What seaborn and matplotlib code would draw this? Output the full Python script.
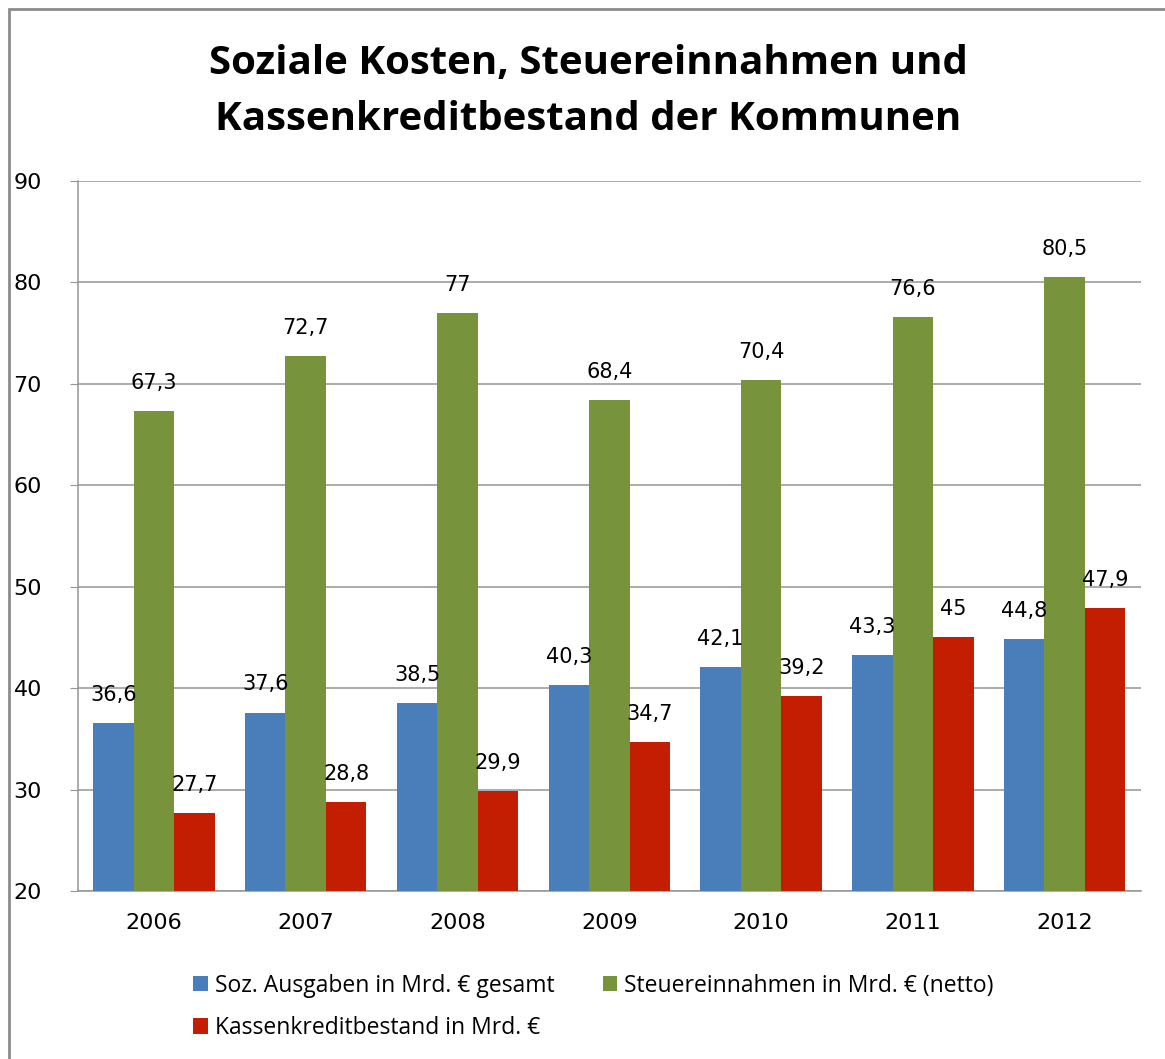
import matplotlib
matplotlib.use("Agg")
import matplotlib.pyplot as plt
from matplotlib.patches import Rectangle
import pandas as pd
import seaborn as sns

years = ["2006", "2007", "2008", "2009", "2010", "2011", "2012"]
soz_ausgaben = [36.6, 37.6, 38.5, 40.3, 42.1, 43.3, 44.8]
steuereinnahmen = [67.3, 72.7, 77.0, 68.4, 70.4, 76.6, 80.5]
kassenkredite = [27.7, 28.8, 29.9, 34.7, 39.2, 45.0, 47.9]

series_names = [
    "Soz. Ausgaben in Mrd. € gesamt",
    "Steuereinnahmen in Mrd. € (netto)",
    "Kassenkreditbestand in Mrd. €",
]
colors = ["#4A7EBB", "#77933C", "#C41E02"]

rows = []
for name, vals in zip(series_names, [soz_ausgaben, steuereinnahmen, kassenkredite]):
    for y, v in zip(years, vals):
        rows.append({"Jahr": y, "Serie": name, "Wert": v})
df = pd.DataFrame(rows)

sns.set_style("white")
plt.rcParams["font.family"] = ["DejaVu Sans"]

fig = plt.figure(figsize=(11.65, 10.59), dpi=100)
ax = fig.add_axes([0.067, 0.1586, 0.912, 0.6705])

sns.barplot(data=df, x="Jahr", y="Wert", hue="Serie", hue_order=series_names,
            palette=colors, width=0.8, saturation=1, ax=ax, errorbar=None,
            linewidth=0, zorder=3)

for cont in ax.containers:
    labels = [f"{v:g}".replace(".", ",") for v in cont.datavalues]
    ax.bar_label(cont, labels=labels, padding=13, fontsize=15, color="black")

ax.set_ylim(20, 90)
ax.set_yticks(range(20, 91, 10))
ax.yaxis.grid(True, color="#959595", linewidth=1.1, zorder=0)
ax.set_axisbelow(True)
ax.set_xlabel("")
ax.set_ylabel("")
ax.tick_params(axis="y", labelsize=16, length=6, color="#959595", left=True,
               pad=20, labelcolor="black")
ax.tick_params(axis="x", labelsize=16, length=0, pad=16, labelcolor="black")
for s in ["top", "right"]:
    ax.spines[s].set_visible(False)
for s in ["left", "bottom"]:
    ax.spines[s].set_color("#959595")
    ax.spines[s].set_linewidth(1.1)

ax.legend_.remove()
handles, labs = ax.get_legend_handles_labels()
order = [0, 2, 1]  # row-major fill: first row two entries, second row one
fig.legend([handles[i] for i in order], [labs[i] for i in order],
           loc="upper left", bbox_to_anchor=(0.148, 0.1),
           ncol=2, frameon=False, handlelength=0.65, handleheight=0.65,
           handletextpad=0.3, columnspacing=2.1, labelspacing=0.8,
           labelcolor="black", prop={"family": "Open Sans", "size": 16.5})

fig.text(0.505, 0.94, "Soziale Kosten, Steuereinnahmen und", ha="center", va="center",
         fontsize=29, fontweight="bold", family="Open Sans", color="black")
fig.text(0.505, 0.887, "Kassenkreditbestand der Kommunen", ha="center", va="center",
         fontsize=29, fontweight="bold", family="Open Sans", color="black")

fig.patches.append(Rectangle((0.0077, -0.2), 1.5, 1.1915, transform=fig.transFigure,
                             fill=False, edgecolor="#8C8C8C", linewidth=2))

fig.savefig("out.png", dpi=100)
